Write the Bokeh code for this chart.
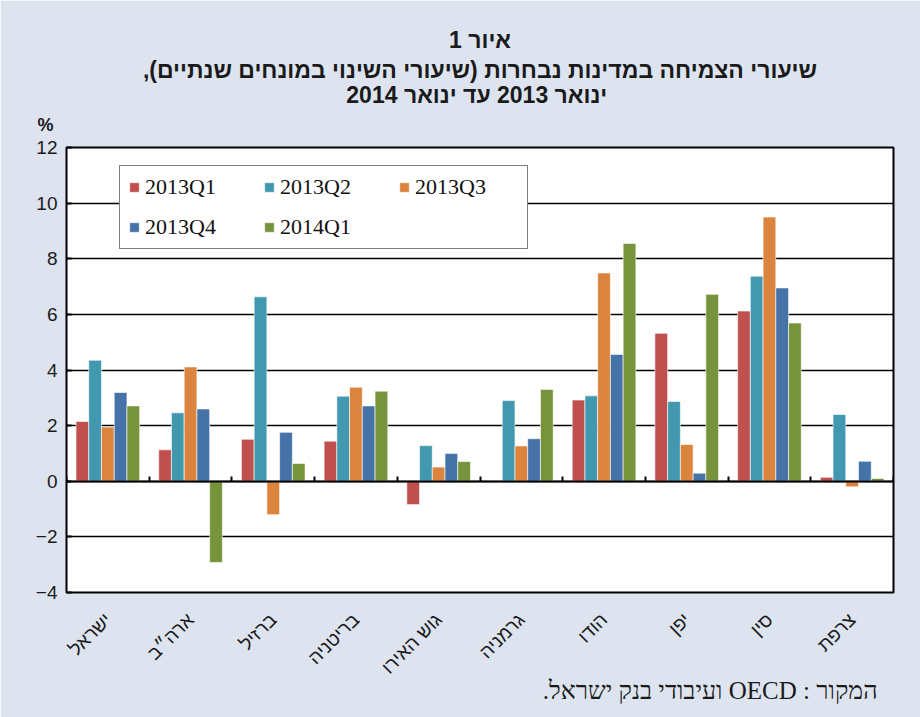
from math import pi
from bokeh.plotting import figure
from bokeh.models import (Range1d, Title, Legend, LegendItem,
                          LinearAxis, FixedTicker, ColumnDataSource)
from bokeh.transform import dodge
from bokeh.embed import file_html
from bokeh.resources import INLINE

RLE, PDF = "\u202b", "\u202c"


def rtl(s):
    return RLE + s + PDF


# ---------------- data ----------------
categories = ["ישראל", "ארה״ב", "ברזיל", "בריטניה", "גוש האירו",
              "גרמניה", "הודו", "יפן", "סין", "צרפת"]
series_names = ["2013Q1", "2013Q2", "2013Q3", "2013Q4", "2014Q1"]
q2013_1 = [2.15, 1.13, 1.51, 1.44, -0.84, 0.0, 2.92, 5.32, 6.12, 0.14]
q2013_2 = [4.35, 2.46, 6.63, 3.06, 1.28, 2.90, 3.07, 2.87, 7.37, 2.40]
q2013_3 = [1.95, 4.11, -1.20, 3.38, 0.51, 1.27, 7.49, 1.32, 9.50, -0.20]
q2013_4 = [3.19, 2.60, 1.76, 2.71, 1.00, 1.53, 4.56, 0.29, 6.95, 0.72]
q2014_1 = [2.71, -2.92, 0.64, 3.24, 0.71, 3.30, 8.55, 6.72, 5.69, 0.10]
y_ticks = [-4, -2, 0, 2, 4, 6, 8, 10, 12]

title_1 = "איור 1"
title_2 = "שיעורי הצמיחה במדינות נבחרות (שיעורי השינוי במונחים שנתיים),"
title_3 = "ינואר 2013  עד ינואר 2014"
unit_label = "%"
source_note = "המקור : OECD ועיבודי בנק ישראל."

colors = ["#C0504D", "#4198AF", "#DB843D", "#4572A7", "#77933C"]
BG = "#DDE4F0"

n = len(categories)
centers = [i + 0.5 for i in range(n)]
bounds = list(range(n + 1))

source = ColumnDataSource(dict(xc=centers, s0=q2013_1, s1=q2013_2,
                               s2=q2013_3, s3=q2013_4, s4=q2014_1))

p = figure(width=920, height=717,
           x_range=Range1d(0, n), y_range=Range1d(-4, 12),
           output_backend="svg", toolbar_location=None,
           x_axis_location=None,
           min_border_left=66, min_border_right=27,
           min_border_top=147, min_border_bottom=125,
           background_fill_color="white", border_fill_color=BG,
           outline_line_color="black", outline_line_width=2)

bar_w = 0.154
offsets = [-2 * bar_w, -bar_w, 0, bar_w, 2 * bar_w]
renderers = []
for i, (name, col) in enumerate(zip(series_names, colors)):
    r = p.vbar(x=dodge("xc", offsets[i]), top="s%d" % i,
               bottom=0, width=bar_w, source=source, fill_color=col,
               line_color="white", line_width=1, line_alpha=0.6)
    renderers.append(r)

legend = Legend(items=[LegendItem(label=nm, renderers=[r])
                       for nm, r in zip(series_names, renderers)],
                location=(53, 343), orientation="horizontal", ncols=3,
                label_text_font="Liberation Serif", label_text_font_size="22px",
                label_text_color="#111111",
                glyph_width=12, glyph_height=12, label_standoff=5,
                padding=8, spacing=14, label_width=104, margin=0,
                border_line_color="black", border_line_width=1.5,
                background_fill_color="white", background_fill_alpha=1.0)
p.add_layout(legend)

# y axis
p.yaxis.ticker = FixedTicker(ticks=y_ticks)
p.yaxis.axis_line_color = None
p.yaxis.major_tick_in = 5
p.yaxis.major_tick_out = 0
p.yaxis.major_tick_line_width = 2
p.yaxis.minor_tick_line_color = None
p.yaxis.major_label_standoff = 9
p.yaxis.major_label_text_font = "Liberation Sans"
p.yaxis.major_label_text_font_size = "19px"
p.yaxis.major_label_text_color = "#1a1a1a"

p.ygrid.ticker = FixedTicker(ticks=y_ticks)
p.ygrid.grid_line_color = "black"
p.ygrid.grid_line_width = 1.6
p.xgrid.visible = False

# category labels along the bottom
cat_axis = LinearAxis(ticker=FixedTicker(ticks=centers),
                      major_label_overrides={c: nm for c, nm in zip(centers, categories)},
                      axis_line_color=None, major_tick_line_color=None,
                      minor_tick_line_color=None,
                      major_label_orientation=pi / 4, major_label_standoff=18,
                      major_label_text_font="Liberation Sans",
                      major_label_text_font_size="19px",
                      major_label_text_color="#1a1a1a")
p.add_layout(cat_axis, "below")

# zero line with ticks at category boundaries
zero_axis = LinearAxis(fixed_location=0, ticker=FixedTicker(ticks=bounds),
                       major_label_text_color=None,
                       axis_line_width=2.2, axis_line_color="black",
                       major_tick_in=5, major_tick_out=0,
                       major_tick_line_width=2, minor_tick_line_color=None)
p.add_layout(zero_axis, "below")

# titles (added bottom-up)
p.add_layout(Title(text=unit_label, align="left", offset=-29,
                   text_font="Liberation Sans", text_font_size="18px",
                   text_font_style="bold", text_color="#1a1a1a", standoff=26), "above")
for t, so in [(title_3, -16), (title_2, 10), (title_1, -6)]:
    p.add_layout(Title(text=rtl(t), align="center",
                       text_font="Liberation Sans", text_font_size="23px",
                       text_font_style="bold", text_color="#1a1a1a", standoff=so), "above")

p.add_layout(Title(text=rtl(source_note), align="right", offset=16,
                   text_font="Liberation Serif", text_font_size="25px",
                   text_font_style="normal", text_color="#1a1a1a", standoff=-28), "below")

open("out.html", "w").write(file_html(p, INLINE))
